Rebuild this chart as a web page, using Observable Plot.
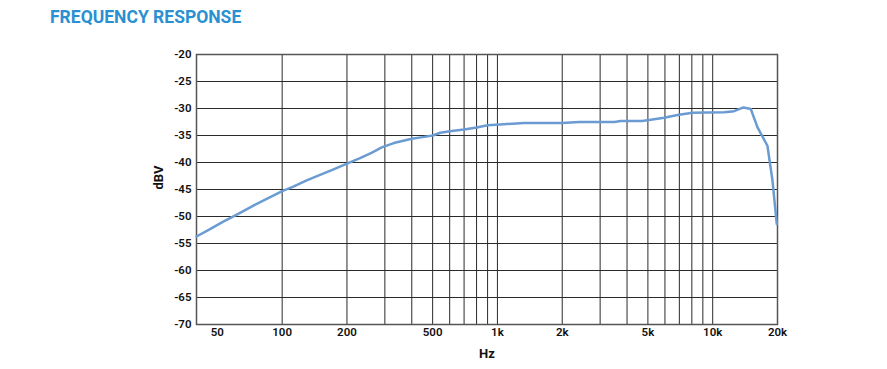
<!DOCTYPE html>
<html>
<head>
<meta charset="utf-8">
<script src="https://cdn.jsdelivr.net/npm/d3@7"></script>
<script src="https://cdn.jsdelivr.net/npm/@observablehq/plot@0.6"></script>
<style>
  html, body { margin: 0; padding: 0; background: #fff; }
  #title { height: 30px; margin: 0; padding: 0 0 0 50px; box-sizing: border-box;
    font-family: Roboto, "Noto Sans", sans-serif; font-weight: 700; font-size: 17.5px;
    color: #2a90d2; line-height: 34px; letter-spacing: 0px; }
  #chart svg { display: block; }
</style>
</head>
<body>
<div id="title">FREQUENCY RESPONSE</div>
<div id="chart"></div>
<script>
// Frequency response data (Hz, dBV)
const freq = [40, 46, 53, 60, 66, 75, 88, 100, 112, 130, 150, 170, 200, 230, 260, 290, 330, 400, 450, 500, 543, 600, 700, 800, 900, 1070, 1330, 2000, 2400, 3500, 3730, 4700, 5150, 5950, 6860, 8050, 11300, 12570, 13900, 15030, 16150, 17960, 18950, 19850];
const dbv  = [-53.7, -52.4, -51.0, -49.9, -49.0, -47.8, -46.4, -45.3, -44.5, -43.3, -42.3, -41.4, -40.2, -39.2, -38.2, -37.2, -36.4, -35.6, -35.3, -35.0, -34.5, -34.2, -33.9, -33.5, -33.1, -32.9, -32.7, -32.7, -32.5, -32.5, -32.3, -32.3, -32.1, -31.7, -31.2, -30.8, -30.7, -30.5, -29.8, -30.1, -33.5, -36.9, -43.3, -51.4];

// Axis ticks and grid
const xTickValues = [50, 100, 200, 500, 1000, 2000, 5000, 10000, 20000];
const xTickLabels = ["50", "100", "200", "500", "1k", "2k", "5k", "10k", "20k"];
const xGrid = [100, 200, 300, 400, 500, 600, 700, 800, 900, 1000, 2000, 3000, 4000, 5000, 6000, 7000, 8000, 9000, 10000];
const yTicks = [-70, -65, -60, -55, -50, -45, -40, -35, -30, -25, -20];
const yGrid = [-65, -60, -55, -50, -45, -40, -35, -30, -25];
const xDomain = [40, 20000];
const yDomain = [-70, -20];

const data = freq.map((f, i) => ({f, v: dbv[i]}));
const xTicksData = xTickValues.map((v, i) => ({v, label: xTickLabels[i]}));

const plot = Plot.plot({
  width: 887,
  height: 339,
  marginLeft: 196,
  marginRight: 110,
  marginTop: 24,
  marginBottom: 45,
  style: {fontFamily: "Roboto, 'Noto Sans', sans-serif", fontSize: "11.5px", color: "#111", background: "#fff"},
  x: {type: "log", domain: xDomain, axis: null},
  y: {domain: yDomain},
  marks: [
    Plot.ruleX(xGrid, {stroke: "#2a2a2a", strokeWidth: 1}),
    Plot.ruleY(yGrid, {stroke: "#2a2a2a", strokeWidth: 1}),
    Plot.frame({stroke: "#555", strokeWidth: 1.5}),
    Plot.text(xTicksData, {x: "v", text: "label", frameAnchor: "bottom", dy: 11, fontWeight: 600, fontSize: 11.5, fill: "#111"}),
    Plot.axisY({ticks: yTicks, tickFormat: d => String(d).replace("\u2212", "-"), tickSize: 0, tickPadding: 5, label: null, fontWeight: 600}),
    Plot.line(data, {x: "f", y: "v", stroke: "#6b9bd3", strokeWidth: 2.5, curve: "linear"}),
    Plot.text(["dBV"], {frameAnchor: "left", dx: -38, dy: 0, rotate: -90, fontWeight: 700, fontSize: 13, fill: "#111"}),
    Plot.text(["Hz"], {frameAnchor: "bottom", dy: 33, fontWeight: 700, fontSize: 13, fill: "#111"})
  ]
});
document.getElementById("chart").appendChild(plot);
</script>
</body>
</html>
